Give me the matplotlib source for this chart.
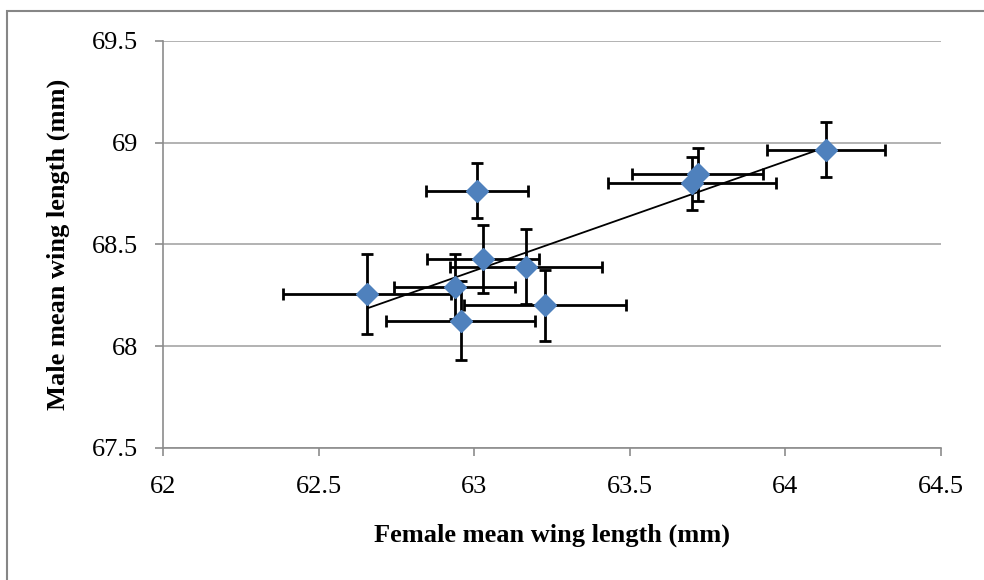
import numpy as np
import matplotlib
matplotlib.use("Agg")
import matplotlib.pyplot as plt
from matplotlib.patches import Rectangle

# Mean wing lengths (mm) per population, with error-bar half widths
female_mean = [62.657, 62.937, 62.957, 63.027, 63.167, 63.228, 63.009, 63.718, 63.700, 64.131]
male_mean = [68.255, 68.293, 68.125, 68.427, 68.391, 68.201, 68.764, 68.843, 68.799, 68.965]
female_err = [0.27, 0.195, 0.239, 0.18, 0.245, 0.26, 0.163, 0.21, 0.27, 0.19]
male_err = [0.197, 0.16, 0.193, 0.168, 0.185, 0.175, 0.136, 0.13, 0.13, 0.135]

x_ticks = [62, 62.5, 63, 63.5, 64, 64.5]
y_ticks = [67.5, 68, 68.5, 69, 69.5]
x_tick_labels = ["62", "62.5", "63", "63.5", "64", "64.5"]
y_tick_labels = ["67.5", "68", "68.5", "69", "69.5"]

plt.rcParams["font.family"] = ["Liberation Serif", "DejaVu Serif"]

fig = plt.figure(figsize=(9.84, 5.8), dpi=100)
ax = fig.add_axes([163 / 984, 1 - 448 / 580, (941 - 163) / 984, (448 - 40.7) / 580])

# Chart border
fig.patches.append(Rectangle((7 / 984, -0.1), 1.2, 1 - 11 / 580 + 0.1,
                             transform=fig.transFigure, fill=False,
                             edgecolor="#868686", linewidth=1.5))

ax.set_xlim(62, 64.5)
ax.set_ylim(67.5, 69.5)
ax.set_xticks(x_ticks)
ax.set_xticklabels(x_tick_labels)
ax.set_yticks(y_ticks)
ax.set_yticklabels(y_tick_labels)

ax.grid(axis="y", color="#a6a6a6", linewidth=1.2)
ax.set_axisbelow(True)
for side in ("top", "right"):
    ax.spines[side].set_visible(False)
for side in ("left", "bottom"):
    ax.spines[side].set_color("#8c8c8c")
    ax.spines[side].set_linewidth(1.2)
ax.tick_params(direction="out", length=6, width=1.2, color="#8c8c8c",
               labelsize=19)
ax.tick_params(axis="x", pad=14)
ax.tick_params(axis="y", pad=12)

# Linear trendline across the observed range
fx = np.array(female_mean)
my = np.array(male_mean)
slope, intercept = np.polyfit(fx, my, 1)
xs = np.array([fx.min(), fx.max()])
ax.plot(xs, slope * xs + intercept, color="black", linewidth=1.3, zorder=2)

ax.errorbar(female_mean, male_mean, xerr=female_err, yerr=male_err,
            fmt="none", ecolor="black", elinewidth=2, capsize=4.5,
            capthick=2, zorder=3)
ax.plot(female_mean, male_mean, linestyle="none", marker="D",
        markersize=11, color="#4f81bd", zorder=4)

ax.set_xlabel("Female mean wing length (mm)", fontsize=19, fontweight="bold",
              va="center")
ax.set_ylabel("Male mean wing length (mm)", fontsize=19, fontweight="bold",
              va="center")
ax.xaxis.set_label_coords(0.5, (448 - 535) / (448 - 40.7))
ax.yaxis.set_label_coords((58 - 163) / (941 - 163), 0.5)

fig.savefig("out.png", dpi=100)
